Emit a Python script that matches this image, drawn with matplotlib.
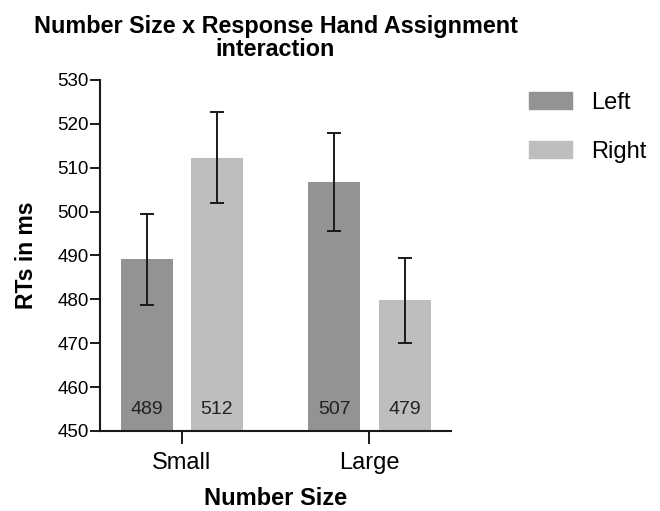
import matplotlib.pyplot as plt
import numpy as np
from matplotlib.patches import Patch

plt.rcParams['font.family'] = ['Liberation Sans', 'DejaVu Sans']

categories = ['Small', 'Large']
hands = ['Left', 'Right']
left_means = [489.1, 506.8]
right_means = [512.3, 479.8]
left_err = [10.3, 11.2]
right_err = [10.3, 9.7]
left_labels = ['489', '507']
right_labels = ['512', '479']

col_left = '#939393'
col_right = '#bdbebd'

fig = plt.figure(figsize=(6.6, 5.11), dpi=100)
ax = fig.add_axes([100 / 660, 80 / 511, 351 / 660, 351 / 511])

x = np.arange(len(categories))
w = 0.277
off = 0.187
ax.bar(x - off, left_means, w, color=col_left, edgecolor='none', zorder=1)
ax.bar(x + off, right_means, w, color=col_right, edgecolor='none', zorder=1)
ax.errorbar(x - off, left_means, yerr=left_err, fmt='none', ecolor='#1a1a1a',
            elinewidth=1.4, capsize=5, capthick=1.4, zorder=3)
ax.errorbar(x + off, right_means, yerr=right_err, fmt='none', ecolor='#1a1a1a',
            elinewidth=1.4, capsize=5, capthick=1.4, zorder=3)

# values printed at the foot of each bar
for xi, lab in zip(x - off, left_labels):
    ax.text(xi, 454.85, lab, ha='center', va='center', fontsize=14, color='#222222')
for xi, lab in zip(x + off, right_labels):
    ax.text(xi, 454.85, lab, ha='center', va='center', fontsize=14, color='#222222')

ax.set_ylim(450, 530)
ax.set_xlim(-0.435, 1.434)
ax.set_yticks(np.arange(450, 531, 10))
ax.set_xticks(x)
ax.set_xticklabels(categories, fontsize=17)
ax.tick_params(axis='y', labelsize=13.5, length=7, width=1.4, pad=1, color='#1a1a1a')
ax.tick_params(axis='x', length=9, width=1.4, pad=6, color='#1a1a1a')
for s in ['top', 'right']:
    ax.spines[s].set_visible(False)
for s in ['left', 'bottom']:
    ax.spines[s].set_linewidth(1.5)
    ax.spines[s].set_color('#1a1a1a')

ax.set_ylabel('RTs in ms', fontsize=16.5, fontweight='bold', labelpad=14)
ax.set_xlabel('Number Size', fontsize=17, fontweight='bold', labelpad=9.5)
ax.set_title('Number Size x Response Hand Assignment\ninteraction',
             fontsize=16.8, fontweight='bold', pad=17, linespacing=1.0)

handles = [Patch(color=col_left), Patch(color=col_right)]
fig.legend(handles, hands, loc='upper left', bbox_to_anchor=(529 / 660, 1 - 92 / 511),
           frameon=False, fontsize=17, handlelength=1.82, handleheight=0.76,
           labelspacing=1.135, handletextpad=0.8, borderpad=0, borderaxespad=0)

fig.savefig('out.png', dpi=100)
